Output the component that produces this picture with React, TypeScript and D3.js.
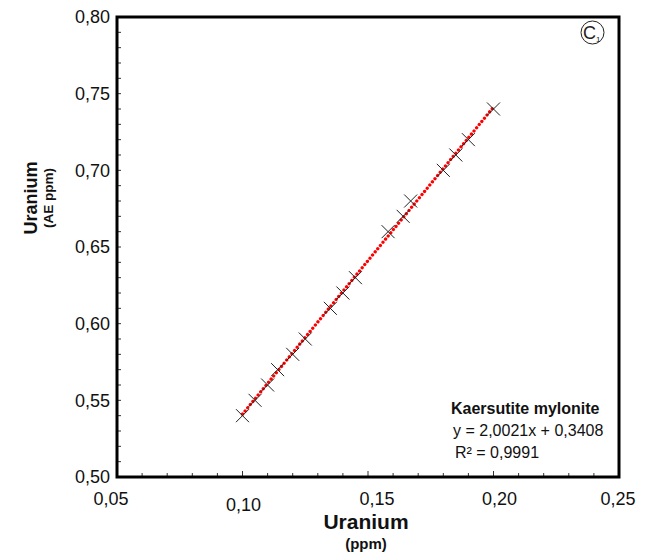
import React from "react";
import * as d3 from "d3";

const uranium = [0.1, 0.105, 0.11, 0.114, 0.12, 0.125, 0.135, 0.14, 0.145, 0.158, 0.164, 0.167, 0.18, 0.185, 0.19, 0.2];
const uraniumAE = [0.54, 0.55, 0.56, 0.57, 0.58, 0.59, 0.61, 0.62, 0.63, 0.66, 0.67, 0.68, 0.70, 0.71, 0.72, 0.74];
const xTicks = [0.05, 0.1, 0.15, 0.2, 0.25];
const yTicks = [0.5, 0.55, 0.6, 0.65, 0.7, 0.75, 0.8];
const slope = 2.0021;
const intercept = 0.3408;
const fitRange = [0.1, 0.2];
const seriesName = "Kaersutite mylonite";
const eqText = "y = 2,0021x + 0,3408";
const r2Text = "R² = 0,9991";

const W = 645, H = 557;
const L = 117, R = 619, T = 17, B = 477;
const FONT = "Arial, 'Liberation Sans', sans-serif";

export default function App() {
  const x = d3.scaleLinear().domain([0.05, 0.25]).range([L, R]);
  const y = d3.scaleLinear().domain([0.5, 0.8]).range([B, T]);
  const fmt = (v: number) => v.toFixed(2).replace(".", ",");
  const minorX = d3.range(0.06, 0.25, 0.01);
  const minorY = d3.range(0.51, 0.8, 0.01);
  const fitLine = d3.line<number>().x((d) => x(d)).y((d) => y(slope * d + intercept));
  const s = 6.5;
  const isMajor = (v: number) => Math.abs(Math.round(v * 100) % 5) === 0;
  return (
    <svg width={W} height={H} style={{ position: "absolute", left: 0, top: 0, background: "#fff" }} fontFamily={FONT}>
      {/* minor ticks */}
      {minorX.map((v, i) => (
        <line key={"mx" + i} x1={x(v)} x2={x(v)} y1={B} y2={B - (isMajor(v) ? 6 : 4)} stroke="#333" strokeWidth={1} />
      ))}
      {minorY.map((v, i) => (
        <line key={"my" + i} x1={L} x2={L + 4} y1={y(v)} y2={y(v)} stroke="#333" strokeWidth={1} />
      ))}
      {/* frame */}
      <rect x={L} y={T} width={R - L} height={B - T} fill="none" stroke="#000" strokeWidth={3} />
      {/* y tick labels */}
      {yTicks.map((v) => (
        <text key={"yt" + v} x={L - 7} y={y(v)} dy="0.35em" textAnchor="end" fontSize={18} fill="#111">{fmt(v)}</text>
      ))}
      {xTicks.map((v, i) => (
        <text key={"xt" + v} x={x(v) + (i === 0 ? -6 : i === 1 ? 1 : i === 2 ? 9 : i === 3 ? 6 : -1)} y={i === 1 ? 511 : 505} textAnchor="middle" fontSize={18} fill="#111">{fmt(v)}</text>
      ))}
      {/* axis titles */}
      <text x={366} y={529} textAnchor="middle" fontSize={21} fontWeight="bold" fill="#111">Uranium</text>
      <text x={366} y={549} textAnchor="middle" fontSize={15} fontWeight="bold" fill="#111">(ppm)</text>
      <text transform={`translate(37,198) rotate(-90)`} textAnchor="middle" fontSize={18} fontWeight="bold" fill="#111">Uranium</text>
      <text transform={`translate(53,198) rotate(-90)`} textAnchor="middle" fontSize={13.5} fontWeight="bold" fill="#111">(AE ppm)</text>
      {/* fit line */}
      <path d={fitLine(fitRange) || ""} fill="none" stroke="#ff0000" strokeWidth={3.3} strokeLinecap="round" strokeDasharray="0.01 4.1" />
      {/* markers */}
      {uranium.map((v, i) => (
        <g key={"p" + i} transform={`translate(${x(v)},${y(uraniumAE[i])})`} stroke="#222" strokeWidth={1}>
          <line x1={-s} y1={-s} x2={s} y2={s} />
          <line x1={-s} y1={s} x2={s} y2={-s} />
        </g>
      ))}
      {/* legend text */}
      <text x={451} y={414} fontSize={16} fontWeight="bold" fill="#111">{seriesName}</text>
      <text x={453} y={436} fontSize={16} fill="#111">{eqText}</text>
      <text x={455} y={458} fontSize={16} fill="#111">{r2Text}</text>
      {/* C1 badge */}
      <circle cx={592.5} cy={32.5} r={11.5} fill="none" stroke="#222" strokeWidth={1} />
      <text x={583} y={39} fontSize={18} fill="#222">C</text>
      <text x={596} y={42} fontSize={8} fill="#222">1</text>
    </svg>
  );
}
